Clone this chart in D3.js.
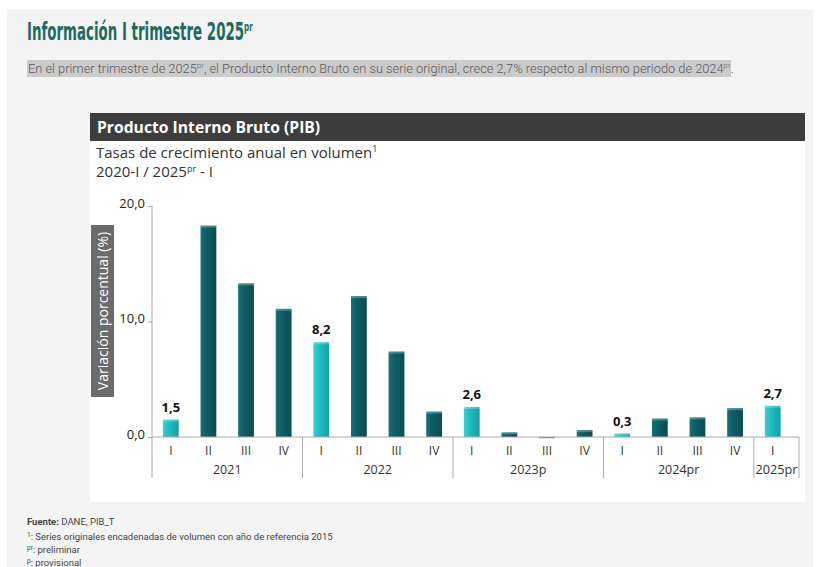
<!DOCTYPE html>
<html>
<head>
<meta charset="utf-8">
<script src="https://cdn.jsdelivr.net/npm/d3@7"></script>
<style>
  body { margin: 0; background: #fff; }
  svg { display: block; }
</style>
</head>
<body>
<svg id="chart" width="820" height="567"></svg>
<script>
'use strict';

// datos
var years = ["2021", "2022", "2023p", "2024pr", "2025pr"];
var quarters = ["I", "II", "III", "IV"];
var periods = [
    "2021-I", "2021-II", "2021-III", "2021-IV",
    "2022-I", "2022-II", "2022-III", "2022-IV",
    "2023p-I", "2023p-II", "2023p-III", "2023p-IV",
    "2024pr-I", "2024pr-II", "2024pr-III", "2024pr-IV",
    "2025pr-I"
];
var growth = [1.5, 18.3, 13.3, 11.1, 8.2, 12.2, 7.4, 2.2, 2.6, 0.4, -0.1, 0.6, 0.3, 1.6, 1.7, 2.5, 2.7];
var yTicks = [0, 10, 20];

var svg = d3.select("#chart");
var fmt = function(v) { return d3.format(".1f")(v).replace(".", ","); };

// fondo de página
svg.append("rect").attr("x", 7).attr("y", 9).attr("width", 806).attr("height", 558).attr("fill", "#f4f4f4");

var defs = svg.append("defs");
function addGrad(id, edge, mid, dark) {
    var g = defs.append("linearGradient").attr("id", id).attr("x1", "0").attr("x2", "1").attr("y1", "0").attr("y2", "0");
    g.append("stop").attr("offset", "0%").attr("stop-color", edge);
    g.append("stop").attr("offset", "35%").attr("stop-color", mid);
    g.append("stop").attr("offset", "100%").attr("stop-color", dark);
}
addGrad("gLight", "#3fd0d2", "#20bfc2", "#139ea3");
addGrad("gDark", "#1a6f76", "#0f5e65", "#0a4d53");

// encabezado (fuente condensada: se escala en horizontal)
var title = svg.append("text").attr("x", 0).attr("y", 0)
    .attr("font-family", "'Liberation Sans Narrow', 'DejaVu Sans Condensed', sans-serif")
    .attr("font-weight", "bold").attr("font-size", 24).attr("fill", "#1e6a5e");
title.append("tspan").text("Información I trimestre 2025");
title.append("tspan").attr("dy", -9).attr("font-size", 13).text("pr");
var titleW = title.node().getComputedTextLength();
title.attr("transform", "translate(27,40) scale(" + (226 / titleW) + ",1)");

svg.append("rect").attr("x", 27).attr("y", 60).attr("width", 704).attr("height", 17).attr("fill", "#cbcbcb");
var sub = svg.append("text").attr("x", 28).attr("y", 73)
    .attr("font-family", "Roboto, sans-serif").attr("font-weight", 300).attr("font-size", 12.8).attr("fill", "#5a5a5a");
sub.append("tspan").text("En el primer trimestre de 2025");
sub.append("tspan").attr("dy", -5).attr("font-size", 8).text("pr");
sub.append("tspan").attr("dy", 5).text(", el Producto Interno Bruto en su serie original, crece 2,7% respecto al mismo periodo de 2024");
sub.append("tspan").attr("dy", -5).attr("font-size", 8).text("pr");
sub.append("tspan").attr("dy", 5).text(".");

// panel del gráfico
svg.append("rect").attr("x", 90).attr("y", 113).attr("width", 715).attr("height", 389).attr("fill", "#fff");
svg.append("rect").attr("x", 90).attr("y", 113).attr("width", 715).attr("height", 28).attr("fill", "#3d3d3d");
svg.append("text").attr("x", 97).attr("y", 133)
    .attr("font-family", "'Open Sans', sans-serif").attr("font-weight", "bold").attr("font-size", 15.7)
    .attr("fill", "#fff").text("Producto Interno Bruto (PIB)");

var t1 = svg.append("text").attr("x", 96).attr("y", 158)
    .attr("font-family", "'Open Sans', sans-serif").attr("font-size", 15).attr("fill", "#333");
t1.append("tspan").text("Tasas de crecimiento anual en volumen");
t1.append("tspan").attr("dy", -6).attr("font-size", 9).text("1");
var t2 = svg.append("text").attr("x", 96).attr("y", 177)
    .attr("font-family", "'Open Sans', sans-serif").attr("font-size", 15).attr("fill", "#333");
t2.append("tspan").text("2020-I / 2025");
t2.append("tspan").attr("dy", -5).attr("font-size", 9).text("pr");
t2.append("tspan").attr("dy", 5).text(" - I");

// escalas
var x = d3.scaleBand().domain(periods).range([152, 791.5]);
var y = d3.scaleLinear().domain([0, 20]).range([437, 206]);
var barW = x.bandwidth() * 0.42;

// eje y
var yAxis = svg.append("g").attr("transform", "translate(152,0)")
    .call(d3.axisLeft(y).tickValues(yTicks).tickSize(4).tickFormat(fmt));
yAxis.select(".domain").attr("stroke", "#aaa").attr("d", "M0," + y(20) + "V" + y(0));
yAxis.selectAll(".tick line").attr("stroke", "#aaa");
yAxis.selectAll(".tick text").attr("font-family", "'Open Sans', sans-serif").attr("font-size", 13)
    .attr("fill", "#222").attr("x", -7).attr("dy", "0.1em");

// etiqueta eje y
svg.append("rect").attr("x", 91).attr("y", 225).attr("width", 23).attr("height", 172).attr("fill", "#6b6b6b");
svg.append("text").attr("transform", "translate(108,311) rotate(-90)").attr("text-anchor", "middle")
    .attr("font-family", "'Open Sans', sans-serif").attr("font-size", 14).attr("fill", "#fff")
    .text("Variación porcentual (%)");

// barras
var bars = svg.append("g").selectAll("g").data(periods).enter().append("g");
bars.append("rect")
    .attr("x", function(d) { return x(d) + (x.bandwidth() - barW) / 2; })
    .attr("y", function(d, i) { return y(Math.max(0, growth[i])); })
    .attr("width", barW)
    .attr("height", function(d, i) { return Math.max(1, Math.abs(y(growth[i]) - y(0))); })
    .attr("fill", function(d) { return /-I$/.test(d) ? "url(#gLight)" : "url(#gDark)"; });
bars.append("rect")
    .attr("x", function(d) { return x(d) + (x.bandwidth() - barW) / 2; })
    .attr("y", function(d, i) { return y(Math.max(0, growth[i])); })
    .attr("width", barW)
    .attr("height", function(d, i) { return Math.min(2, Math.abs(y(growth[i]) - y(0))); })
    .attr("fill", "#fff").attr("opacity", 0.25);

// etiquetas de valor (solo trimestre I)
bars.filter(function(d) { return /-I$/.test(d); }).append("text")
    .attr("x", function(d) { return x(d) + x.bandwidth() / 2; })
    .attr("y", function(d) { return y(growth[periods.indexOf(d)]) - 8; })
    .attr("text-anchor", "middle")
    .attr("font-family", "'Open Sans', sans-serif").attr("font-weight", "bold").attr("font-size", 13)
    .attr("fill", "#111")
    .text(function(d) { return fmt(growth[periods.indexOf(d)]); });

// eje x
var axisY = y(0);
svg.append("line").attr("x1", 152).attr("x2", 799).attr("y1", axisY).attr("y2", axisY).attr("stroke", "#aaa");
svg.append("g").selectAll("text").data(periods).enter().append("text")
    .attr("x", function(d) { return x(d) + x.bandwidth() / 2; })
    .attr("y", axisY + 18)
    .attr("text-anchor", "middle")
    .attr("font-family", "'Open Sans', sans-serif").attr("font-size", 12).attr("fill", "#333")
    .text(function(d) { return d.split("-")[1]; });

var groups = years.map(function(yr) {
    var ps = periods.filter(function(p) { return p.split("-")[0] === yr; });
    var x0 = x(ps[0]);
    var x1 = x(ps[ps.length - 1]) + x.bandwidth();
    return { year: yr, x0: x0, x1: x1 };
});
groups[groups.length - 1].x1 = 799;
var sepX = [groups[0].x0].concat(groups.map(function(g) { return g.x1; }));
svg.append("g").selectAll("line").data(sepX).enter().append("line")
    .attr("x1", function(d) { return d; }).attr("x2", function(d) { return d; })
    .attr("y1", axisY).attr("y2", axisY + 41).attr("stroke", "#aaa");
svg.append("g").selectAll("text").data(groups).enter().append("text")
    .attr("x", function(g) { return (g.x0 + g.x1) / 2; })
    .attr("y", axisY + 37)
    .attr("text-anchor", "middle")
    .attr("font-family", "'Open Sans', sans-serif").attr("font-size", 12.5).attr("fill", "#333")
    .attr("textLength", function(g) { return g.year === "2025pr" ? 42 : null; })
    .attr("lengthAdjust", "spacingAndGlyphs")
    .text(function(g) { return g.year; });

// notas
var notes = svg.append("g").attr("font-family", "Roboto, sans-serif").attr("font-size", 9.5).attr("fill", "#444");
var n1 = notes.append("text").attr("x", 27).attr("y", 525);
n1.append("tspan").attr("font-weight", "bold").text("Fuente:");
n1.append("tspan").text(" DANE, PIB_T");
var n2 = notes.append("text").attr("x", 27).attr("y", 540);
n2.append("tspan").attr("dy", -3).attr("font-size", 6.5).text("1");
n2.append("tspan").attr("dy", 3).text(": Series originales encadenadas de volumen con año de referencia 2015");
var n3 = notes.append("text").attr("x", 27).attr("y", 553);
n3.append("tspan").attr("dy", -3).attr("font-size", 6.5).text("pr");
n3.append("tspan").attr("dy", 3).text(": preliminar");
var n4 = notes.append("text").attr("x", 27).attr("y", 566);
n4.append("tspan").attr("dy", -3).attr("font-size", 6.5).text("p");
n4.append("tspan").attr("dy", 3).text(": provisional");
</script>
</body>
</html>
